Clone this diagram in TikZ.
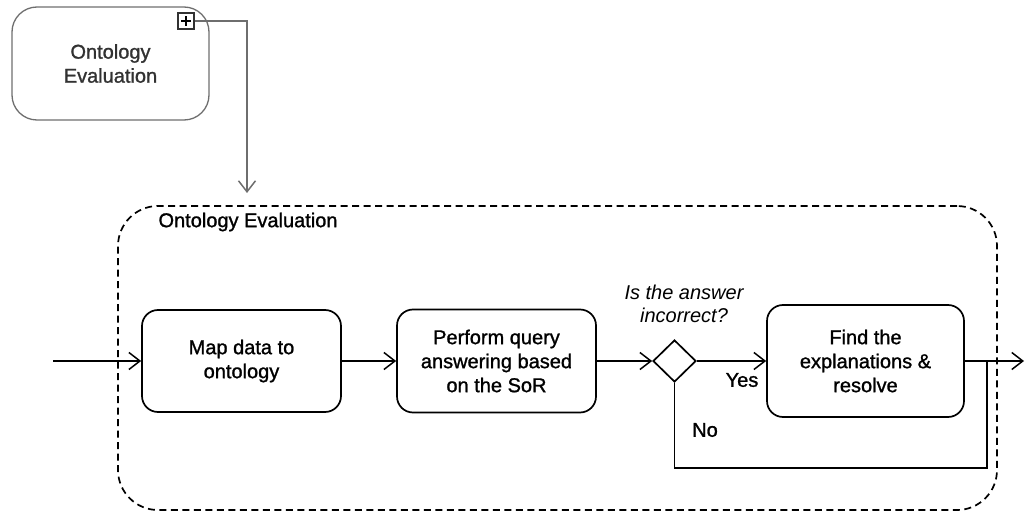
\documentclass[tikz,border=0pt]{standalone}
\usepackage{fontspec}
\setmainfont{Liberation Sans}
\newfontfamily\heavyfont{Liberation Sans}[FakeBold=1.2]
\usetikzlibrary{arrows.meta,shapes.geometric}
\definecolor{subgray}{RGB}{110,110,110}
\definecolor{subtext}{RGB}{50,50,50}

\begin{document}
\begin{tikzpicture}[x=1pt,y=-1pt,
  txt/.style={font=\heavyfont\fontsize{20}{24}\selectfont},
  task/.style={txt, draw, line width=1.7pt, rounded corners=16pt, align=center, inner sep=0pt},
  flow/.style={line width=1.5pt, -{Straight Barb[length=11pt,width=17pt,line width=1.5pt]}},
  plain/.style={line width=1.5pt},
  gate/.style={diamond, draw, line width=1.7pt, inner sep=0pt, minimum width=43pt, minimum height=42pt},
]
\useasboundingbox (0,0) rectangle (1027,513);

% collapsed sub-process
\node[txt, draw=subgray, text=subtext, line width=1.3pt, rounded corners=25pt, align=center,
      minimum width=197pt, minimum height=113pt, inner sep=0pt] (sub) at (110.5,63.5) {Ontology\\Evaluation};
\node[draw=subtext, fill=white, line width=1.1pt, minimum width=16pt, minimum height=16pt, inner sep=0pt] (plus) at (186,21) {};
\draw[line width=2.4pt] ([xshift=-5pt]plus.center) -- ([xshift=5pt]plus.center)
      ([yshift=-5pt]plus.center) -- ([yshift=5pt]plus.center);
\coordinate (down) at (247,193);
\draw[flow, draw=subgray, line width=1.3pt] (plus.east) -| (down);

% expanded sub-process frame
\node[draw, dashed, dash pattern=on 7pt off 4.5pt, line width=1.7pt, rounded corners=40pt,
      minimum width=879pt, minimum height=304pt, inner sep=0pt] (frame) at (557.5,358) {};
\node[txt, anchor=west] (title) at (155,222) {Ontology Evaluation};

% activities
\node[task, minimum width=199pt, minimum height=102pt] (map) at (241.5,361) {Map data to\\ontology};
\node[task, minimum width=199pt, minimum height=103pt] (query) at (496.5,361) {Perform query\\answering based\\on the SoR};
\node[gate] (dec) at (674.5,361) {};
\node[align=center, font=\fontsize{20}{23}\selectfont\itshape] (ask) at (684,304) {Is the answer\\incorrect?};
\node[task, minimum width=197pt, minimum height=112pt] (find) at (865.5,361) {Find the\\explanations \&\\resolve};

\coordinate (start) at (53,361);
\coordinate (end) at (1024,361);
\coordinate (join) at (987,361);
\coordinate (loop) at (987,468);

\draw[flow] (start) -- (map);
\draw[flow] (map) -- (query);
\draw[flow] (query) -- (dec.west);
\draw[flow] (dec.east) -- (find);
\node[txt] (yes) at (742,380) {Yes};
\draw[flow] (find.east) -- (end);
\draw[plain] (dec.south) |- (loop) -- (join);
\node[txt] (no) at (705,430) {No};
\end{tikzpicture}
\end{document}
